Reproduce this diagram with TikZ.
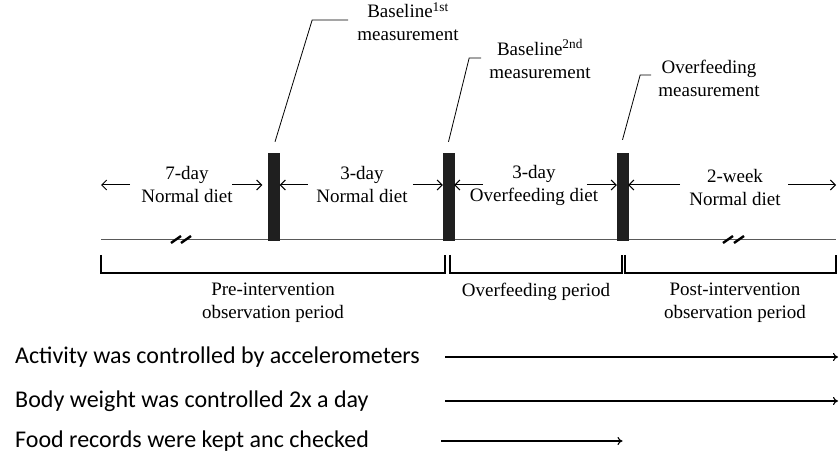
\documentclass[tikz,border=0pt]{standalone}
\usepackage{fontspec}
\setmainfont{Liberation Serif}
\newfontfamily\notefont{Carlito}
\usepackage{tikz}
\usetikzlibrary{arrows.meta}
\tikzstyle{bar} = [rectangle, draw=black!88, fill=black!88, minimum width=11pt, minimum height=87pt, inner sep=0pt]
\tikzstyle{period} = [align=center, font=\fontsize{19}{23}\selectfont, inner sep=0pt]
\tikzstyle{note} = [anchor=west, font=\notefont\fontsize{24}{28}\selectfont, inner sep=0pt]
\tikzstyle{arrow} = [line width=1pt, -{Straight Barb[length=5pt,width=10pt]}]
\tikzstyle{leader} = [line width=0.8pt]
\tikzstyle{bracket} = [line width=1.2pt]
\tikzstyle{track} = [line width=1.1pt, -{To[length=5pt,width=8pt]}]
\tikzstyle{timeline} = [draw=black!65, line width=1pt]
\tikzstyle{cut} = [line width=2.4pt]

\begin{document}
\begin{tikzpicture}[x=1pt, y=-1pt]
\useasboundingbox (0,0) rectangle (840,470);
\coordinate (tlstart) at (101,240);
\coordinate (tlend) at (836,240);
\coordinate (arrowrow) at (0,185);
\draw [timeline] (tlstart) -- (tlend);
\draw [cut] (171,243) -- (181,236) (181,243) -- (191,236);
\draw [cut] (723,243) -- (733,236) (734,243) -- (744,236);

\node (bar1) [bar] at (274,196.5) {};
\node (bar2) [bar] at (448.5,196.5) {};
\node (bar3) [bar] at (622.5,196.5) {};

\node (seg1) [period] at (187,185) {7-day\\Normal diet};
\node (seg2) [period] at (362,185) {3-day\\Normal diet};
\node (seg3) [period] at (534,185) {3-day\\Overfeeding diet};
\node (seg4) [period] at (735,188) {2-week\\Normal diet};

\node (base1) [period] at (408,22) {Baseline\textsuperscript{1st}\\measurement};
\node (base2) [period] at (540,59) {Baseline\textsuperscript{2nd}\\measurement};
\node (overm) [period] at (709,78) {Overfeeding\\measurement};

\node (pre) [period] at (273,303) {Pre-intervention\\observation period};
\node (over) [period] at (536,292) {Overfeeding period};
\node (post) [period] at (735,303) {Post-intervention\\observation period};

\node (act) [note] at (15,357) {Activity was controlled by accelerometers};
\node (wgt) [note] at (15,401) {Body weight was controlled 2x a day};
\node (food) [note] at (15,441) {Food records were kept anc checked};
\coordinate (trackstart) at (445,0);
\coordinate (trackend) at (838,0);

%---------------------------------ARROWS
\draw [arrow] ([xshift=29pt]tlstart |- arrowrow) -- (tlstart |- arrowrow);
\draw [arrow] ([xshift=-36pt]bar1.west |- arrowrow) -- ([xshift=-6pt]bar1.west |- arrowrow);
\draw [arrow] ([xshift=28pt]bar1.east |- arrowrow) -- (bar1.east |- arrowrow);
\draw [arrow] ([xshift=-30pt]bar2.west |- arrowrow) -- (bar2.west |- arrowrow);
\draw [arrow] ([xshift=29pt]bar2.east |- arrowrow) -- (bar2.east |- arrowrow);
\draw [arrow] ([xshift=-30pt]bar3.west |- arrowrow) -- (bar3.west |- arrowrow);
\draw [arrow] ([xshift=52pt]bar3.east |- arrowrow) -- (bar3.east |- arrowrow);
\draw [arrow] ([xshift=-48pt]tlend |- arrowrow) -- (tlend |- arrowrow);

%---------------------------------CALLOUTS
\draw [leader] ([xshift=1pt,yshift=11pt]bar1.north) -- ([xshift=-45pt,yshift=2pt]base1.west) -- ([xshift=-9pt,yshift=2pt]base1.west);
\draw [leader] ([yshift=11pt]bar2.north) -- ([xshift=-20pt,yshift=1pt]base2.west) -- ([xshift=-8pt,yshift=1pt]base2.west);
\draw [leader] ([yshift=13pt]bar3.north) -- ([xshift=-18pt,yshift=3pt]overm.west) -- ([xshift=-7pt,yshift=3pt]overm.west);

%---------------------------------PERIODS
\draw [bracket] (101,255) |- (445,273) -- (445,255);
\draw [bracket] (450,255) |- (622,273) -- (622,255);
\draw [bracket] (625,255) |- (836,273) -- (836,255);

%---------------------------------RECORDS
\draw [track] (act -| trackstart) -- (act -| trackend);
\draw [track] (wgt -| trackstart) -- (wgt -| trackend);
\draw [track] ([xshift=-4pt]food -| trackstart) -- (food -| bar3);

\end{tikzpicture}
\end{document}
